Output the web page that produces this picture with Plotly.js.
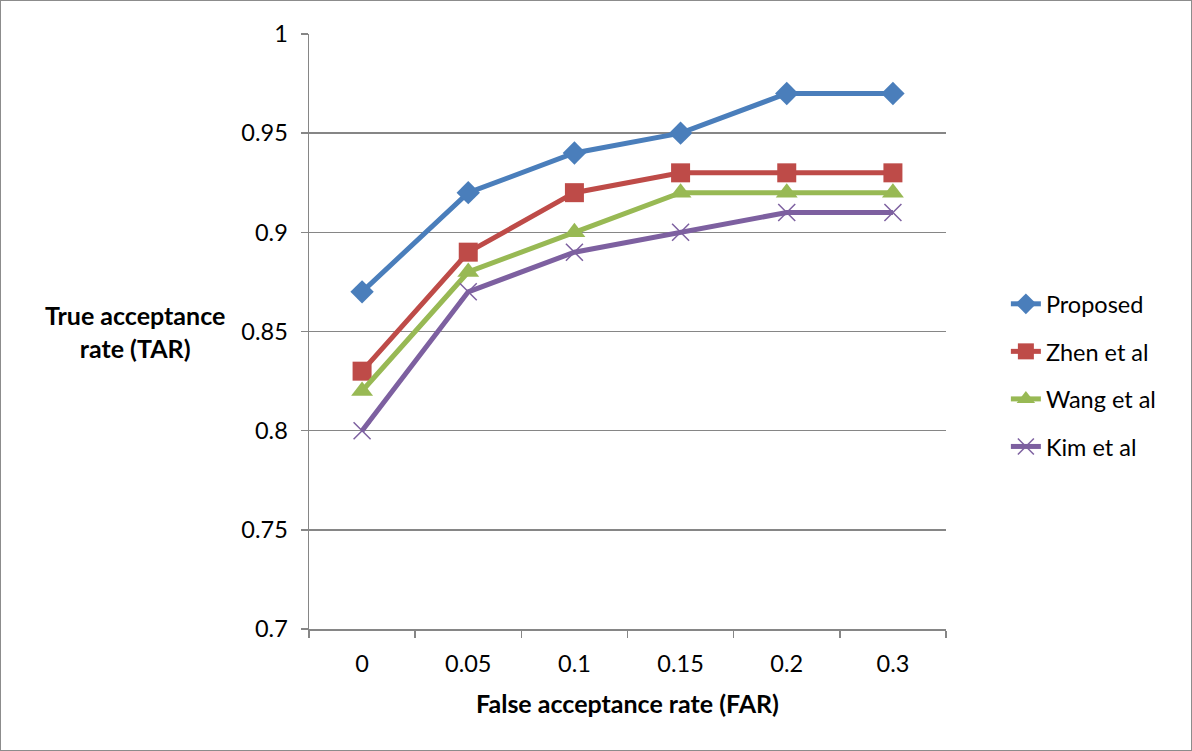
<!DOCTYPE html>
<html>
<head>
<meta charset="utf-8">
<script src="https://cdn.plot.ly/plotly-3.0.1.min.js"></script>
<style>
html,body{margin:0;padding:0;background:#fff;}
#wrap{position:relative;width:1192px;height:751px;}
#chart{width:1192px;height:751px;}
#frame{position:absolute;left:0;top:0;width:1192px;height:751px;box-sizing:border-box;border:1px solid #8c8c8c;pointer-events:none;}
</style>
</head>
<body>
<div id="wrap"><div id="chart"></div><div id="frame"></div></div>
<script>
const categories = ["0", "0.05", "0.1", "0.15", "0.2", "0.3"];
const proposed = [0.87, 0.92, 0.94, 0.95, 0.97, 0.97];
const zhen = [0.83, 0.89, 0.92, 0.93, 0.93, 0.93];
const wang = [0.82, 0.88, 0.90, 0.92, 0.92, 0.92];
const kim = [0.80, 0.87, 0.89, 0.90, 0.91, 0.91];
const yTickVals = [0.7, 0.75, 0.8, 0.85, 0.9, 0.95, 1];
const yTickText = ["0.7", "0.75", "0.8", "0.85", "0.9", "0.95", "1"];

const FONT = "Lato, 'Open Sans', sans-serif";
const FS = 23.5;
const FT = 25;

function tr(name, y, color, symbol, size, group) {
  return {
    type: 'scatter', mode: 'lines+markers', name: name, x: categories, y: y,
    legendgroup: group,
    line: {color: color, width: 5},
    marker: {color: color, symbol: symbol, size: size, line: {color: color, width: symbol.indexOf('x') === 0 ? 1.5 : 0}}
  };
}

const data = [
  tr('Proposed', proposed, '#4A7EBB', 'diamond', 18, 'a'),
  tr('Zhen et al', zhen, '#BE4B48', 'square', 19, 'b'),
  tr('Wang et al', wang, '#98B954', 'triangle-up', 19, 'c'),
  tr('Kim et al', kim, '#7D60A0', 'x-thin-open', 17, 'd')
];

const layout = {
  width: 1192, height: 751,
  margin: {l: 309, r: 246, t: 34, b: 122},
  paper_bgcolor: '#fff', plot_bgcolor: '#fff',
  font: {family: FONT, size: FS, color: '#000'},
  showlegend: true,
  legend: {x: 1.094, xanchor: 'left', y: 0.426, yanchor: 'middle', tracegroupgap: 14,
           font: {family: FONT, size: FS, color: '#000'}, bgcolor: 'rgba(0,0,0,0)'},
  xaxis: {
    type: 'category', range: [-0.5, 5.5], tickson: 'boundaries',
    showgrid: false, zeroline: false,
    showline: true, linecolor: '#868686', linewidth: 1.5,
    ticks: 'outside', ticklen: 7, tickcolor: '#868686', tickwidth: 1.5,
    ticklabelstandoff: 13,
    tickfont: {family: FONT, size: FS, color: '#000'},
    title: {text: '<b>False acceptance rate (FAR)</b>', font: {family: FONT, size: FT, color: '#000'}, standoff: 20},
    fixedrange: true
  },
  yaxis: {
    range: [0.7, 1], tickvals: yTickVals, ticktext: yTickText,
    showgrid: true, gridcolor: '#868686', gridwidth: 1.5,
    zeroline: false,
    showline: true, linecolor: '#868686', linewidth: 1.5,
    ticks: 'outside', ticklen: 7, tickcolor: '#868686', tickwidth: 1.5,
    ticklabelstandoff: 8,
    tickfont: {family: FONT, size: FS, color: '#000'},
    fixedrange: true
  },
  annotations: [{
    xref: 'paper', yref: 'paper', x: -0.273, y: 0.5, xanchor: 'center', yanchor: 'middle',
    text: '<b>True acceptance<br>rate (TAR)</b>', showarrow: false, align: 'center',
    font: {family: FONT, size: FT, color: '#000'}
  }]
};

Plotly.newPlot('chart', data, layout, {displayModeBar: false, staticPlot: true});
</script>
</body>
</html>
